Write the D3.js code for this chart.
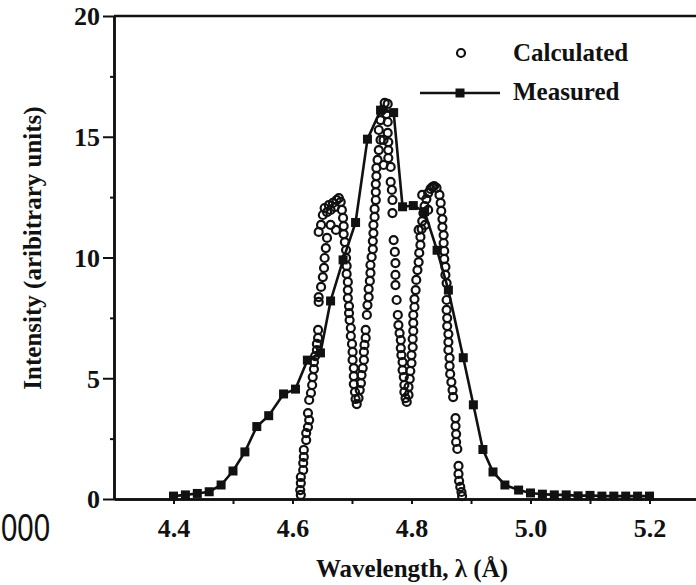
<!DOCTYPE html>
<html>
<head>
<meta charset="utf-8">
<script src="https://cdn.jsdelivr.net/npm/d3@7"></script>
<style>
  body { margin: 0; background: #fff; }
  svg { display: block; }
  text { font-family: "Liberation Serif", "Times New Roman", serif; font-weight: bold; fill: #111; }
</style>
</head>
<body>
<script>
// measured spectrum (squares joined by a line)
const measuredX = [4.40, 4.42, 4.44, 4.46, 4.48, 4.50, 4.52, 4.54, 4.56, 4.585, 4.605, 4.625, 4.647, 4.664,
  4.685, 4.706, 4.726, 4.748, 4.770, 4.785, 4.803, 4.822, 4.843, 4.862, 4.887, 4.904, 4.920, 4.937, 4.957,
  4.98, 5.00, 5.02, 5.04, 5.06, 5.08, 5.10, 5.12, 5.14, 5.16, 5.18, 5.20]
const measuredY = [0.12, 0.17, 0.23, 0.30, 0.58, 1.16, 1.95, 3.00, 3.45, 4.35, 4.55, 5.75, 6.05, 8.20,
  9.90, 11.45, 14.90, 16.10, 16.00, 12.10, 12.15, 11.90, 10.30, 8.65, 5.85, 3.90, 2.05, 1.12, 0.58,
  0.37, 0.25, 0.20, 0.17, 0.17, 0.13, 0.15, 0.12, 0.12, 0.12, 0.12, 0.12]

// calculated spectrum (open circles)
const calcX = [
  4.614, 4.613, 4.614, 4.614, 4.618, 4.618, 4.619, 4.619, 4.623, 4.623, 4.626, 4.628, 4.626, 4.628, 4.631,
  4.633, 4.634, 4.636, 4.636, 4.638, 4.641, 4.641, 4.643, 4.643, 4.644, 4.644, 4.648, 4.651, 4.653, 4.654,
  4.656, 4.658, 4.648, 4.651, 4.654, 4.658, 4.661, 4.664, 4.668, 4.671, 4.674, 4.678, 4.681, 4.683, 4.644,
  4.664, 4.673,
  4.685, 4.686, 4.686, 4.688, 4.690, 4.690, 4.691, 4.691, 4.693, 4.693, 4.693, 4.695, 4.695, 4.696, 4.698,
  4.698, 4.700, 4.701, 4.701, 4.703, 4.703, 4.703, 4.705, 4.706, 4.708,
  4.711, 4.713, 4.715, 4.716, 4.718, 4.720, 4.720, 4.721, 4.723, 4.723, 4.725, 4.726, 4.728, 4.728, 4.730,
  4.731, 4.731, 4.733, 4.735, 4.735, 4.736, 4.736, 4.738, 4.738, 4.740, 4.740, 4.740, 4.741, 4.741, 4.743,
  4.745, 4.748, 4.745, 4.748, 4.751, 4.755, 4.760,
  4.758, 4.760, 4.753, 4.760, 4.761, 4.761, 4.761, 4.765, 4.753, 4.765, 4.767, 4.768, 4.768, 4.770, 4.772,
  4.773, 4.773, 4.773, 4.775, 4.777, 4.778, 4.780, 4.782, 4.782, 4.783, 4.785, 4.785, 4.787, 4.788, 4.788,
  4.790, 4.792,
  4.795, 4.795, 4.797, 4.798, 4.800, 4.800, 4.802, 4.802, 4.803, 4.803, 4.803, 4.805, 4.805, 4.807, 4.808,
  4.810, 4.812, 4.813, 4.815, 4.815, 4.817, 4.818, 4.820, 4.822, 4.825, 4.828, 4.832, 4.835, 4.838, 4.842,
  4.812, 4.823, 4.828, 4.818,
  4.847, 4.849, 4.850, 4.852, 4.852, 4.854, 4.854, 4.855, 4.855, 4.857, 4.857, 4.859, 4.859, 4.859, 4.860,
  4.860, 4.862, 4.862, 4.862, 4.864, 4.864, 4.865, 4.867, 4.869, 4.870, 4.874, 4.874, 4.875, 4.875, 4.877,
  4.879, 4.879, 4.880, 4.882, 4.884, 4.885]
const calcY = [
  0.17, 0.37, 0.66, 0.91, 1.20, 1.49, 1.74, 2.03, 2.44, 2.73, 2.98, 3.27, 3.56, 4.10, 4.39,
  4.72, 5.05, 5.38, 5.67, 5.92, 6.17, 6.42, 6.67, 7.00, 8.16, 8.36, 8.78, 9.19, 9.57, 9.98,
  10.39, 10.81, 11.35, 11.76, 12.05, 11.88, 12.17, 11.97, 12.26, 12.09, 12.38, 12.46, 12.30, 11.97, 11.06,
  11.35, 11.14,
  11.64, 11.30, 10.97, 10.64, 10.31, 9.98, 9.65, 9.32, 8.99, 8.65, 8.32, 7.99, 7.70, 7.41, 7.08,
  6.75, 6.42, 6.09, 5.76, 5.42, 5.09, 4.76, 4.43, 4.14, 3.93,
  4.18, 4.51, 4.80, 5.13, 5.42, 5.76, 6.09, 6.38, 6.67, 7.00, 7.62, 8.03, 8.36, 8.70, 9.03,
  9.36, 9.69, 10.02, 10.35, 10.68, 11.01, 11.35, 11.68, 12.01, 12.38, 12.71, 13.04, 13.37, 13.71, 14.04,
  14.45, 14.87, 15.28, 15.69, 16.11, 16.40, 16.36,
  15.94, 15.61, 14.87, 15.16, 14.78, 14.45, 14.12, 13.75, 13.83, 13.13, 12.80, 12.38, 11.84, 10.72, 10.23,
  9.77, 9.28, 8.86, 8.24, 7.62, 7.20, 6.87, 6.58, 6.25, 5.96, 5.67, 5.34, 5.05, 4.72, 4.43,
  4.18, 4.02,
  4.31, 4.64, 4.97, 5.30, 5.63, 5.96, 6.29, 6.63, 6.96, 7.29, 7.62, 7.95, 8.28, 8.65, 9.07,
  9.48, 9.81, 10.19, 10.52, 10.85, 11.18, 11.51, 11.84, 12.13, 12.42, 12.67, 12.84, 12.92, 12.96, 12.88,
  11.14, 11.35, 11.97, 12.59,
  12.59, 12.26, 11.93, 11.59, 11.26, 10.93, 10.60, 10.27, 9.94, 9.61, 9.28, 8.94, 8.24, 7.83, 7.49,
  7.16, 6.83, 6.50, 6.17, 5.84, 5.51, 5.18, 4.84, 4.51, 4.22, 3.35, 3.02, 2.69, 2.36, 2.07,
  1.37, 1.04, 0.75, 0.50, 0.29, 0.12]

const xMajor = [4.4, 4.6, 4.8, 5.0, 5.2]
const xMinor = [4.5, 4.7, 4.9, 5.1]
const yMajor = [0, 5, 10, 15, 20]
const yMinor = [2.5, 7.5, 12.5, 17.5]
const legendLabels = ["Calculated", "Measured"]

const width = 696
const height = 585
const ink = "#111"
const circleR = 4
const circleW = 2.2

const svg = d3.select("body").append("svg")
  .attr("width", width)
  .attr("height", height)

const x = d3.scaleLinear().domain([4.3, 5.3]).range([114, 709])
const y = d3.scaleLinear().domain([0, 20]).range([499, 16])

// frame line on top
svg.append("line")
  .attr("x1", x(4.3)).attr("x2", x(5.3))
  .attr("y1", y(20)).attr("y2", y(20))
  .attr("stroke", ink).attr("stroke-width", 2.5)

function styleAxis(g) {
  g.select(".domain").attr("stroke", ink).attr("stroke-width", 2.5)
  g.selectAll(".tick line").attr("stroke", ink).attr("stroke-width", 2)
  g.selectAll("text").style("font-size", "26px").attr("fill", ink)
}

// y axis
svg.append("g")
  .attr("transform", `translate(${x(4.3)},0)`)
  .call(d3.axisLeft(y).tickValues(yMajor).tickSize(11).tickPadding(3).tickSizeOuter(0))
  .call(styleAxis)
  .call(g => g.selectAll("text").attr("dy", "0.34em"))

svg.append("g")
  .attr("transform", `translate(${x(4.3)},0)`)
  .call(d3.axisLeft(y).tickValues(yMinor).tickSize(4).tickFormat("").tickSizeOuter(0))
  .call(styleAxis)

// x axis
svg.append("g")
  .attr("transform", `translate(0,${y(0)})`)
  .call(d3.axisBottom(x).tickValues(xMajor).tickSize(5).tickFormat(d3.format(".1f")).tickSizeOuter(0))
  .call(styleAxis)
  .call(g => g.selectAll("text").attr("y", 38).attr("dy", 0))

svg.append("g")
  .attr("transform", `translate(0,${y(0)})`)
  .call(d3.axisBottom(x).tickValues(xMinor).tickSize(5).tickFormat("").tickSizeOuter(0))
  .call(styleAxis)

// calculated circles
const calc = calcX.map((d, i) => ({x: d, y: calcY[i]}))
svg.append("g")
  .selectAll("circle")
  .data(calc)
  .join("circle")
  .attr("cx", d => x(d.x))
  .attr("cy", d => y(d.y))
  .attr("r", circleR)
  .attr("fill", "none")
  .attr("stroke", ink)
  .attr("stroke-width", circleW)

// measured line + squares
const measured = measuredX.map((d, i) => ({x: d, y: measuredY[i]}))
const line = d3.line().x(d => x(d.x)).y(d => y(d.y))

svg.append("path")
  .datum(measured)
  .attr("d", line)
  .attr("fill", "none")
  .attr("stroke", ink)
  .attr("stroke-width", 2.6)

const sq = 9
svg.append("g")
  .selectAll("rect")
  .data(measured)
  .join("rect")
  .attr("x", d => x(d.x) - sq / 2)
  .attr("y", d => y(d.y) - sq / 2)
  .attr("width", sq)
  .attr("height", sq)
  .attr("fill", ink)

// legend
const legend = svg.append("g")
legend.append("circle")
  .attr("cx", 461).attr("cy", 53).attr("r", circleR)
  .attr("fill", "none").attr("stroke", ink).attr("stroke-width", circleW)
legend.append("line")
  .attr("x1", 420).attr("x2", 500).attr("y1", 93).attr("y2", 93)
  .attr("stroke", ink).attr("stroke-width", 2.6)
legend.append("rect")
  .attr("x", 460 - sq / 2).attr("y", 93 - sq / 2)
  .attr("width", sq).attr("height", sq).attr("fill", ink)
legend.selectAll("text.lab")
  .data(legendLabels)
  .join("text")
  .attr("class", "lab")
  .attr("x", 513)
  .attr("y", (d, i) => 61 + i * 39)
  .style("font-size", "25px")
  .text(d => d)

// axis titles
svg.append("text")
  .attr("x", 412).attr("y", 577)
  .attr("text-anchor", "middle")
  .style("font-size", "25px")
  .text("Wavelength, λ (Å)")

svg.append("text")
  .attr("transform", "translate(41,248) rotate(-90)")
  .attr("text-anchor", "middle")
  .style("font-size", "25px")
  .text("Intensity (aribitrary units)")

// stray number at the left edge of the page
svg.append("text")
  .attr("x", 1).attr("y", 541)
  .attr("textLength", 49)
  .attr("lengthAdjust", "spacingAndGlyphs")
  .style("font-family", "'Liberation Sans', Arial, sans-serif")
  .style("font-weight", "normal")
  .style("font-size", "38px")
  .attr("fill", "#000")
  .text("000")
</script>
</body>
</html>
